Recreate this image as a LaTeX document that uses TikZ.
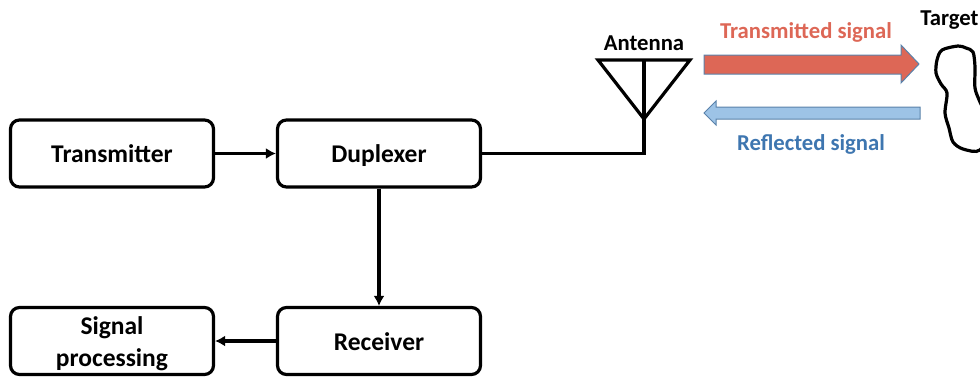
\documentclass[tikz,border=0pt]{standalone}
\usepackage{fontspec}
\setmainfont{Carlito}
\usetikzlibrary{arrows.meta,positioning}
\definecolor{txred}{RGB}{221,103,86}
\definecolor{rxblue}{RGB}{157,195,230}
\definecolor{rxtext}{RGB}{62,118,176}
\definecolor{edgeblue}{RGB}{90,130,170}
\begin{document}
\begin{tikzpicture}[x=1pt,y=-1pt,line width=3.2pt,>={Latex[length=10pt,width=11pt]}]
    \tikzstyle{block} = [draw, rounded corners=9pt, minimum width=203pt,
    minimum height=67pt, inner sep=0pt, align=center, text height=20pt, text depth=3pt,
    font=\fontsize{25.5}{32}\selectfont\bfseries]
    \tikzstyle{caption} = [inner sep=0pt, font=\fontsize{22.7}{27}\selectfont\bfseries]
    \tikzstyle{bigarrow} = [draw=edgeblue, line width=1pt]

    \useasboundingbox (0,0) rectangle (980,376);

    \draw
    (112,153.5) node [block] (transmitter) {Transmitter}
    (379,153.5) node [block] (duplexer) {Duplexer}
    (379,341) node [block,text height=22pt] (receiver) {Receiver}
    (112,341) node [block,text height=53pt] (signal) {Signal\\processing}

    (644,43) node [caption] (antenna) {Antenna}
    (949.5,20.5) node [caption] (target) {Target}
    (806,32.5) node [caption,text=txred] (transmitted) {Transmitted signal}
    (811,144) node [caption,text=rxtext] (reflected) {Reflected signal};

    \coordinate (feed) at (644,153.5);
    \coordinate (apex) at (644,119);
    \coordinate (lefttip) at (598,60);
    \coordinate (righttip) at (690,60);
    \coordinate (topmid) at (644,60);

    \draw[->] (transmitter) -- (duplexer);
    \draw[->] (duplexer) -- (receiver);
    \draw[->] (receiver) -- (signal);
    \draw (duplexer) -- (feed) -- (apex);
    \draw[line join=miter] (apex) -- (lefttip) -- (righttip) -- cycle;
    \draw (topmid) -- (apex);

    % block arrows
    \draw[bigarrow,fill=txred] (704,55) -- (901,55) -- (901,45) -- (919,64)
    -- (901,83) -- (901,74) -- (704,74) -- cycle;
    \draw[bigarrow,fill=rxblue] (920,107) -- (716,107) -- (716,101) -- (704,113)
    -- (716,125) -- (716,119) -- (920,119) -- cycle;

    % target outline, cut by the page edge
    \begin{scope}
    \clip (920,30) rectangle (980,170);
    \draw[line join=round] plot[smooth cycle,tension=0.5] coordinates {
    (958,46) (966,48) (973,52) (975,67) (975,88) (980,102) (990,125) (980,150)
    (963,149) (953,142) (949,128) (945,113) (947,93) (941,84) (936,73) (937,60) (942,50)};
    \end{scope}
\end{tikzpicture}
\end{document}
